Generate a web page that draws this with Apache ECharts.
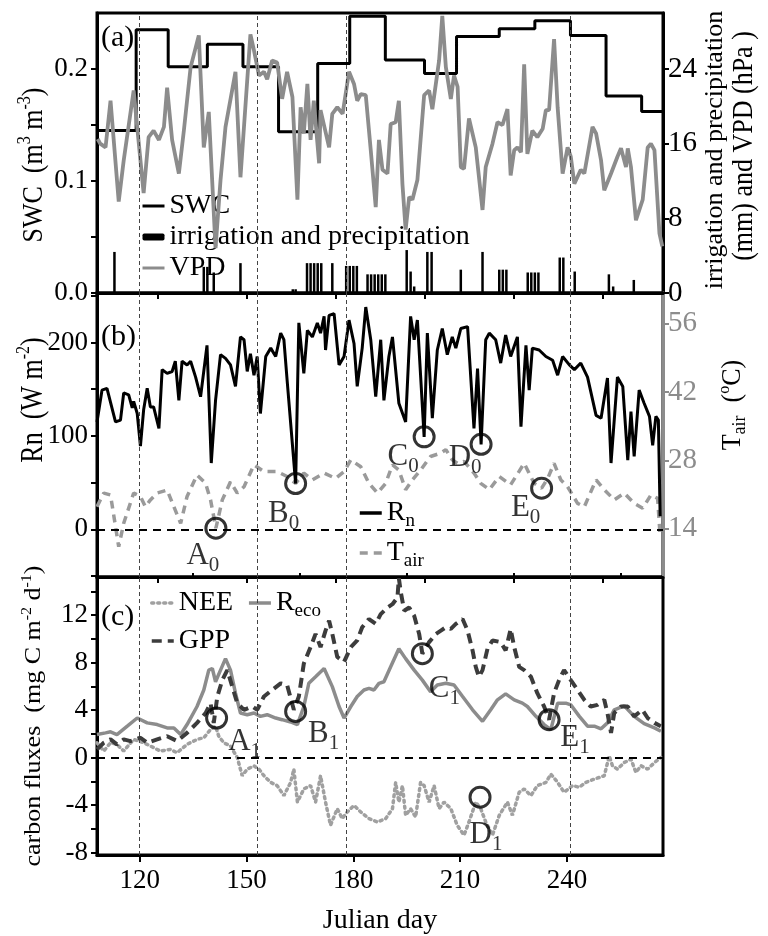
<!DOCTYPE html>
<html><head><meta charset="utf-8">
<script src="https://cdn.jsdelivr.net/npm/echarts@6/dist/echarts.min.js"></script>
<style>html,body{margin:0;padding:0;background:#fff}#c{width:768px;height:936px}</style>
</head><body><div id="c"></div>
<script>
// ---------------- DATA ----------------
const stageDays = [120, 153, 178, 241];
const xTicksUpper = [125, 150, 175, 200, 225, 250];
const xTicksMajor = [120, 150, 180, 210, 240];
const xTicksMinor = [135, 165, 195, 225, 255];
const swcTicks = [0, 0.05, 0.1, 0.15, 0.2];
const swcLabels = [0, 0.1, 0.2];
const rightATicks = [0, 8, 16, 24];
const rnTicks = [-50, 0, 50, 100, 150, 200, 250];
const rnLabels = [0, 100, 200];
const tairTicks = [14, 28, 42, 56];
const fluxTicks = [-8, -6, -4, -2, 0, 2, 4, 6, 8, 10, 12, 14];
const fluxLabels = [-8, -4, 0, 4, 8, 12];

// SWC plateaus [day, m3/m3]
const swc = [[108,0.145],[119,0.235],[128,0.202],[139,0.222],[149,0.202],[159,0.144],[170,0.205],[179,0.247],[189,0.208],[200,0.196],[209,0.229],[221,0.236],[231,0.243],[241,0.230],[251,0.176],[261,0.162],[267,0.162]];
// irrigation and precipitation [day, mm]
const precip = [[112.9,4.4],[138.0,2.8],[139.0,2.8],[140.8,2.2],[148.3,3.2],[163.0,0.4],[163.8,0.4],[167,3.2],[168,3.2],[169,3.2],[170,3.2],[171,3.2],[174.1,3.2],[178,2.9],[179,2.9],[180,2.9],[181,2.9],[184,2.0],[185,2.0],[186,2.0],[187,2.0],[188,2.0],[189,2.0],[195.0,4.6],[196.1,2.3],[197.1,0.7],[200.8,4.4],[202.0,4.4],[210.2,2.5],[216.3,4.4],[221,2.5],[222,2.5],[223,2.5],[229,2.2],[230,2.2],[231,2.2],[232,2.2],[238,3.8],[239,3.8],[242.2,2.3],[251.8,2.0],[253.0,0.7],[258.8,1.4]];
// VPD [day, hPa]
const vpd = [[108.2,16.5],[108.9,16.0],[110.4,15.6],[111.8,20.6],[114.1,9.8],[115.5,14.2],[118.3,21.7],[121.1,10.7],[122.5,16.7],[123.9,17.4],[125.4,16.4],[126.8,17.8],[127.7,22.0],[129.1,16.4],[131.0,12.8],[132.4,17.4],[134.3,24.2],[136.6,27.6],[138.0,15.6],[139.4,19.4],[141.3,4.8],[142.7,12.1],[144.1,17.8],[146.9,23.7],[148.3,12.4],[151.1,27.7],[152.1,26.0],[153.5,23.3],[154.9,23.7],[155.8,22.9],[157.2,24.9],[158.6,24.7],[160.0,20.8],[161.4,23.7],[162.9,21.0],[164.3,10.0],[165.2,19.9],[166.1,17.1],[167.1,22.4],[168.0,16.4],[168.9,20.6],[170.4,13.9],[170.8,19.6],[173.2,15.6],[174.1,19.2],[175.5,19.9],[177.0,19.2],[178.8,23.7],[180.2,22.4],[181.1,20.6],[182.1,21.3],[183.5,21.2],[184.9,15.3],[186.3,9.2],[187.2,16.4],[188.2,13.2],[189.6,12.8],[190.5,18.1],[191.9,18.3],[192.8,20.6],[193.8,11.7],[194.7,6.8],[195.7,10.3],[196.6,10.0],[198.0,12.1],[199.9,21.2],[201.3,21.7],[202.2,19.7],[204.1,24.9],[205.0,29.7],[206.0,24.2],[207.4,20.8],[208.3,23.3],[209.3,22.1],[210.2,13.5],[211.1,13.3],[212.5,18.7],[214.4,15.6],[216.3,8.9],[217.2,13.5],[219.1,16.0],[220.5,18.3],[221.9,18.0],[223.3,19.7],[224.2,12.6],[225.2,15.3],[226.1,15.6],[227.1,15.1],[228.0,24.5],[228.9,14.9],[230.3,17.4],[231.7,16.7],[233.2,17.6],[234.1,19.6],[235.0,19.6],[236.4,27.2],[237.4,19.9],[238.8,12.8],[240.2,15.6],[241.1,14.6],[242.1,11.7],[243.9,13.2],[244.9,12.8],[247.2,17.8],[248.2,17.1],[249.6,14.2],[250.5,11.0],[252.4,12.8],[254.2,14.6],[255.2,15.5],[256.6,13.5],[257.1,15.5],[258.0,13.5],[259.4,7.8],[261.3,10.0],[262.7,15.6],[263.6,16.0],[264.6,15.3],[266.0,6.4],[266.8,5.0]];
// Rn [day, W m-2]
const rn = [[108.0,115],[109.4,149],[110.8,151],[113.2,115],[114.6,117],[115.5,146],[116.9,144],[117.9,130],[118.3,137],[119.3,124],[120.2,89],[121.1,128],[122.1,151],[123.0,131],[123.9,131],[125.4,108],[126.3,171],[127.7,167],[129.1,169],[130.0,180],[131.0,138],[131.9,180],[133.3,176],[134.3,180],[135.7,163],[137.1,142],[138.9,197],[140.1,71],[141.3,138],[142.7,187],[144.1,183],[145.5,176],[146.9,153],[148.3,206],[149.3,203],[150.2,169],[151.1,188],[152.1,165],[153.0,185],[153.9,124],[155.4,185],[156.8,194],[158.2,185],[159.6,210],[160.5,203],[161.4,160],[163.8,49],[164.7,221],[166.1,167],[167.1,213],[168.5,206],[169.9,221],[170.8,210],[171.8,228],[172.2,192],[173.2,229],[174.6,231],[176.0,176],[177.4,185],[178.8,224],[180.2,199],[181.1,153],[182.5,194],[183.5,238],[184.9,203],[186.3,142],[187.7,203],[188.6,138],[190.0,185],[191.0,206],[192.8,135],[194.7,115],[196.1,228],[197.1,203],[198.0,224],[199.9,99],[200.8,210],[202.2,119],[203.6,192],[205.0,215],[206.4,187],[207.8,206],[208.8,194],[210.2,215],[212.1,217],[213.9,108],[214.9,172],[215.9,91],[217.2,203],[218.2,210],[220.0,203],[221.4,178],[222.8,208],[224.2,185],[226.1,206],[227.1,110],[228.5,197],[229.4,149],[230.3,194],[232.2,192],[234.1,185],[236.0,181],[237.4,165],[238.8,185],[240.7,176],[242.1,171],[243.9,178],[245.8,163],[248.2,122],[249.6,119],[251.4,162],[252.4,71],[254.2,163],[255.7,153],[257.1,74],[258.0,126],[258.9,78],[260.3,149],[261.7,135],[263.2,121],[264.1,90],[265.0,121],[265.7,117],[266.2,14]];
// Tair [day, degC]
const tair = [[108.0,18.5],[109.9,21.3],[111.8,20.9],[114.1,10.3],[115.5,15.1],[118.3,21.3],[120.2,20.6],[121.6,18.5],[123.0,19.9],[124.9,21.3],[127.7,21.9],[129.6,18.5],[131.5,15.1],[133.3,20.6],[136.1,25.0],[138.5,23.3],[139.9,19.9],[141.4,14.1],[143.2,19.9],[145.5,23.6],[147.4,21.3],[149.3,22.6],[152.1,27.1],[154.9,25.7],[158.6,25.7],[161.4,24.7],[163.8,23.3],[166.1,25.4],[168.5,24.0],[171.8,25.4],[175.0,24.3],[177.4,25.7],[179.3,28.1],[182.1,26.7],[184.4,23.3],[186.8,21.3],[189.1,23.3],[191.0,27.1],[192.8,26.0],[194.7,22.0],[196.6,24.0],[198.9,26.0],[201.7,28.8],[204.6,29.5],[206.0,30.2],[207.8,28.1],[209.3,27.4],[211.1,27.8],[213.9,25.4],[215.8,23.3],[218.2,22.0],[221.0,24.7],[224.2,23.0],[228.0,27.4],[230.8,23.3],[232.9,22.3],[234.6,24.3],[236.4,27.4],[238.3,24.0],[240.2,22.6],[243.0,19.2],[244.9,18.5],[248.2,24.0],[250.5,22.0],[253.3,19.9],[256.1,21.3],[258.9,19.2],[261.3,18.2],[263.6,20.9],[265.5,20.2],[266.2,12.4]];
// carbon fluxes [day, mg C m-2 d-1]
const reco = [[108.0,1.94],[110.4,2.08],[111.8,2.17],[113.6,1.94],[116.5,2.64],[119.3,3.33],[122.1,2.92],[124.9,2.78],[127.7,2.5],[129.6,2.5],[131.5,1.94],[133.3,2.78],[136.1,4.3],[138.0,5.69],[139.4,7.36],[140.4,7.5],[141.3,6.38],[142.7,7.36],[144.1,8.33],[145.5,7.36],[146.9,5.42],[148.3,3.75],[150.2,3.61],[152.1,3.75],[153.9,3.47],[155.8,3.61],[158.2,3.33],[160.0,3.19],[162.4,3.0],[164.3,2.78],[166.1,4.3],[167.5,6.25],[169.4,6.8],[171.8,7.5],[174.1,5.97],[176.0,4.3],[177.4,3.33],[179.3,4.3],[181.1,5.14],[183.0,5.69],[184.4,5.83],[185.8,5.69],[187.2,6.25],[188.6,6.38],[190.5,7.64],[192.8,9.16],[194.7,8.33],[197.1,7.36],[199.4,6.52],[201.7,5.55],[203.6,6.11],[206.0,6.25],[208.3,6.11],[210.7,5.14],[213.5,4.02],[216.3,3.05],[218.6,4.02],[220.5,4.86],[222.8,5.36],[225.2,4.86],[227.5,4.58],[228.9,4.3],[231.3,3.47],[233.6,2.78],[235.5,2.36],[237.4,4.58],[239.7,4.58],[241.1,4.44],[243.5,3.47],[245.8,2.64],[247.7,2.64],[249.6,2.42],[251.4,2.92],[253.3,4.02],[256.1,4.36],[258.9,3.47],[261.7,2.86],[264.6,2.5],[266.4,2.22]];
const gpp = [[108.0,0.69],[109.9,1.25],[111.8,1.53],[113.6,1.11],[115.5,1.53],[117.4,1.39],[120.2,1.67],[122.1,1.25],[124.9,1.53],[127.7,1.8],[130.5,1.39],[133.3,2.08],[136.1,2.92],[138.5,3.75],[139.9,4.58],[140.8,2.92],[141.8,5.14],[143.2,6.52],[144.6,7.36],[146.0,5.97],[147.4,4.58],[149.3,4.02],[151.6,4.3],[153.0,4.02],[154.9,5.14],[157.2,5.69],[159.6,6.25],[161.4,6.11],[163.3,4.02],[164.7,5.14],[166.1,7.91],[168.0,9.3],[169.4,10.41],[170.8,9.3],[172.2,10.69],[173.2,11.52],[174.1,10.41],[175.5,8.47],[177.4,8.05],[179.3,9.3],[181.1,9.86],[182.5,10.97],[184.4,11.66],[186.3,11.25],[187.7,12.08],[189.6,12.63],[191.0,12.91],[192.4,13.47],[192.8,15.1],[193.3,14.0],[194.3,12.36],[195.7,12.63],[197.1,11.94],[198.5,10.41],[199.4,8.75],[201.3,9.72],[203.2,10.41],[204.6,10.69],[206.0,10.97],[207.4,10.83],[208.8,11.25],[210.7,11.66],[212.1,10.69],[213.5,9.02],[214.4,7.63],[215.3,6.8],[216.3,7.36],[217.7,9.16],[219.1,9.86],[221.4,9.72],[222.8,9.02],[224.2,10.83],[225.2,9.3],[226.6,7.63],[228.0,7.36],[229.9,6.8],[231.7,5.42],[233.6,4.3],[235.0,3.19],[236.4,5.42],[237.8,6.52],[239.2,7.36],[241.1,6.52],[243.0,5.69],[244.9,4.86],[246.7,4.3],[248.6,4.44],[250.5,4.86],[251.4,3.75],[252.4,2.08],[253.3,3.75],[255.2,4.3],[257.1,4.3],[258.9,3.47],[261.2,4.02],[262.7,3.33],[264.6,2.92],[266.4,2.64]];
const nee = [[108.0,1.25],[109.9,0.55],[111.8,1.25],[113.6,1.11],[115.5,0.55],[118.3,1.53],[121.1,1.25],[123.0,0.97],[125.8,0.55],[128.6,0.69],[130.5,0.41],[133.3,1.11],[136.1,1.53],[138.0,1.67],[139.9,2.36],[141.3,2.64],[142.2,1.8],[143.6,1.25],[145.5,0.97],[147.4,0.0],[148.8,-1.53],[150.2,-0.97],[152.1,-0.7],[153.5,-0.97],[154.9,-1.53],[156.8,-2.09],[158.6,-2.36],[160.5,-3.2],[162.4,-2.09],[163.3,-0.97],[164.3,-3.75],[166.1,-2.64],[168.0,-2.36],[169.4,-3.75],[170.8,-1.53],[172.2,-3.75],[173.6,-5.7],[175.5,-4.3],[176.9,-5.14],[178.3,-4.58],[180.2,-4.03],[182.1,-4.58],[184.4,-5.14],[186.8,-5.42],[189.1,-5.14],[191.0,-4.3],[191.9,-2.09],[192.8,-3.75],[193.8,-2.36],[194.7,-4.86],[196.1,-4.3],[197.5,-5.0],[198.9,-2.09],[199.9,-2.36],[201.3,-3.75],[202.7,-2.36],[204.1,-4.3],[205.5,-3.75],[207.4,-4.3],[209.2,-5.7],[211.1,-6.53],[212.5,-5.42],[214.4,-3.75],[215.8,-4.3],[217.2,-5.42],[219.1,-6.53],[221.0,-4.86],[223.3,-3.75],[224.7,-4.86],[226.6,-2.92],[228.0,-2.64],[229.9,-3.2],[231.7,-2.36],[234.1,-2.09],[235.5,-1.39],[237.4,-2.09],[239.2,-2.92],[241.6,-2.36],[243.5,-2.5],[245.3,-2.09],[247.7,-1.81],[250.5,-1.53],[251.9,0.14],[252.8,-0.69],[254.2,-0.97],[256.1,-0.42],[258.0,-0.14],[259.4,-1.25],[260.8,-0.69],[262.7,-0.97],[264.6,-0.42],[266.4,0.0]];

// marked points: label, subscript, day, value
const marksRn = [['B','0',163.8,49],['C','0',199.9,99],['D','0',215.9,91]];
const marksTair = [['A','0',141.4,14.1],['E','0',232.9,22.3]];
const marksFlux = [['A','1',141.6,3.33],['B','1',163.8,3.88],['C','1',199.4,8.75],['D','1',215.6,-3.33],['E','1',235.0,3.19]];

// ---------------- STYLE ----------------
const FONT = 'Liberation Serif';
const labelOffsets = {A0:[-13,28],B0:[-12,30],C0:[-21,20],D0:[-16,14],E0:[-16,20],
                      A1:[28,24],B1:[28,22],C1:[22,35],D1:[6,38],E1:[26,18]};
const xMin = 108, xMax = 267;

const chart = echarts.init(document.getElementById('c'), null, {renderer:'canvas'});

const tickLabel = {fontFamily: FONT, fontSize: 27, color: '#000'};
function xAxisUpper(gi){
  return {gridIndex: gi, type:'value', min:xMin, max:xMax,
    axisLine:{show:true, onZero:false, lineStyle:{color:'#000', width:3}},
    axisTick:{show:true, customValues:xTicksUpper, length:6, lineStyle:{color:'#000', width:2}},
    axisLabel:{show:false}, splitLine:{show:false}};
}
function yAx(gi, pos, min, max, ticks, labels, color, fmt, margin, fs){
  return {gridIndex: gi, type:'value', position: pos, min, max,
    axisLine:{show:true, onZero:false, lineStyle:{color: color, width:3}},
    axisTick:{show:true, customValues:ticks, length:6, lineStyle:{color: color, width:2}},
    axisLabel:{show:true, customValues:labels, margin: margin, fontFamily:FONT, fontSize:fs || 27, color: color, formatter: fmt},
    splitLine:{show:false}};
}
const vLines = stageDays.map(d => ({xAxis: d}));
const vLineStyle = {color:'#444', type:[4,3], width:1};
const zeroLine = {yAxis: 0, lineStyle:{color:'#000', type:[8,6], width:2}};

const circleStyle = {color:'rgba(0,0,0,0)', borderColor:'#000', borderWidth:3};
const markRich = {
  m:{fontFamily:FONT, fontSize:31, lineHeight:40, color:'#000'},
  s:{fontFamily:FONT, fontSize:21, lineHeight:20, verticalAlign:'bottom', color:'#000'}
};
function markData(arr){
  return arr.map(m => ({value:[m[2], m[3]], lab:m[0], sub:m[1],
    label:{offset: labelOffsets[m[0]+m[1]]}}));
}
function markSeries(arr, xi, yi){
  return {type:'scatter', xAxisIndex:xi, yAxisIndex:yi, data: markData(arr), symbol:'circle', symbolSize:20,
    itemStyle: circleStyle, z: 10, silent:true,
    label:{show:true, position:'inside', formatter: p => `{m|${p.data.lab}}{s|${p.data.sub}}`, rich: markRich}};
}

const legendText = {fontFamily:FONT, fontSize:28, color:'#000', lineHeight:30,
  rich:{m:{fontFamily:FONT, fontSize:28, lineHeight:36, color:'#000'},
        s:{fontFamily:FONT, fontSize:19, lineHeight:19, verticalAlign:'bottom', color:'#000'}}};
const subName = {Rn:'{m|R}{s|n}', Tair:'{m|T}{s|air}', Reco:'{m|R}{s|eco}'};
const legendFmt = n => subName[n] || n;
const lineItem = n => ({name:n, itemStyle:{opacity:0}});

const T = {fontFamily:FONT, fontSize:26, lineHeight:32, fill:'#000', color:'#000'};
const P = {fontFamily:FONT, fontSize:16, lineHeight:16, verticalAlign:'top', fill:'#000', color:'#000'};
const S = {fontFamily:FONT, fontSize:18, lineHeight:18, verticalAlign:'bottom', fill:'#000', color:'#000'};
function vtitle(x, y, text, sc){
  return {type:'text', x, y, rotation: Math.PI/2, scaleX: 1, scaleY: sc, silent:true,
    style:{text, rich:{t:T, p:P, s:S}, align:'center', verticalAlign:'middle', fill:'#000',
      fontFamily:FONT, fontSize:26}};
}
function panelLabel(x, y, text){
  return {type:'text', x, y, silent:true, style:{text, fontFamily:FONT, fontSize:30, fill:'#000', align:'left', verticalAlign:'middle'}};
}

const option = {
  animation:false,
  backgroundColor:'#fff',
  grid:[
    {left:97, width:566, top:13, height:280, show:true, borderColor:'#000', borderWidth:3, backgroundColor:'transparent'},
    {left:97, width:566, top:293, height:284, show:true, borderColor:'#000', borderWidth:3, backgroundColor:'transparent'},
    {left:97, width:566, top:577, height:280, show:true, borderColor:'#000', borderWidth:3, backgroundColor:'transparent'}
  ],
  xAxis:[
    xAxisUpper(0), xAxisUpper(1),
    {gridIndex:2, type:'value', min:xMin, max:xMax,
      axisLine:{show:true, onZero:false, lineStyle:{color:'#000', width:3}},
      axisTick:{show:true, customValues:xTicksMajor, length:7, lineStyle:{color:'#000', width:2}},
      axisLabel:{show:true, customValues:xTicksMajor, margin:12, ...tickLabel},
      splitLine:{show:false},
      name:'Julian day', nameLocation:'middle', nameGap:52,
      nameTextStyle:{fontFamily:FONT, fontSize:28, color:'#000'}},
    {gridIndex:2, type:'value', min:xMin, max:xMax,
      axisLine:{show:false, onZero:false},
      axisTick:{show:true, customValues:xTicksMinor, length:4, lineStyle:{color:'#000', width:2}},
      axisLabel:{show:false}, splitLine:{show:false}}
  ],
  yAxis:[
    yAx(0,'left',0,0.25,swcTicks,swcLabels,'#000', v => v.toFixed(1), 9),
    yAx(0,'right',0,30,rightATicks,rightATicks,'#000', v => String(v), 5, 29),
    yAx(1,'left',-51,253,rnTicks,rnLabels,'#000', v => String(v), 9),
    yAx(1,'right',4.1,62.3,tairTicks,tairTicks,'#8c8c8c', v => String(v), 5, 29),
    yAx(2,'left',-8.2,15.2,fluxTicks,fluxLabels,'#000', v => String(v), 9)
  ],
  legend:[
    {data:[lineItem('SWC'),'irrigation and precipitation',lineItem('VPD')], orient:'vertical', left:136, top:186,
      itemWidth:22, itemHeight:7, itemGap:1, selectedMode:false, textStyle:legendText,
      lineStyle:{width:3}},
    {data:[lineItem('Rn'),lineItem('Tair')], orient:'vertical', left:353, top:490, itemWidth:22, itemHeight:7, itemGap:4,
      selectedMode:false, textStyle:legendText, formatter:legendFmt, lineStyle:{width:3.5}},
    {data:[lineItem('NEE'),lineItem('Reco')], orient:'horizontal', left:145, top:580, itemWidth:22, itemHeight:7, itemGap:14,
      selectedMode:false, textStyle:legendText, formatter:legendFmt, lineStyle:{width:3.5}},
    {data:[lineItem('GPP')], orient:'horizontal', left:145, top:621, itemWidth:22, itemHeight:7, itemGap:14,
      selectedMode:false, textStyle:legendText, formatter:legendFmt, lineStyle:{width:3.5}}
  ],
  series:[
    {name:'SWC', type:'line', xAxisIndex:0, yAxisIndex:0, data:swc, step:'end', symbol:'none',
      lineStyle:{color:'#000', width:3}, itemStyle:{color:'#000'}, z:3,
      markLine:{silent:true, symbol:'none', label:{show:false}, lineStyle:vLineStyle, data:vLines}},
    {name:'irrigation and precipitation', type:'bar', xAxisIndex:0, yAxisIndex:1, data:precip,
      barWidth:2.5, itemStyle:{color:'#000'}, z:2},
    {name:'VPD', type:'line', xAxisIndex:0, yAxisIndex:1, data:vpd, symbol:'none',
      lineStyle:{color:'#8c8c8c', width:3.8}, itemStyle:{color:'#8c8c8c'}, z:4},

    {name:'Tair', type:'line', xAxisIndex:1, yAxisIndex:3, data:tair, symbol:'none',
      lineStyle:{color:'#9a9a9a', width:3.5, type:[8,6]}, itemStyle:{color:'#9a9a9a'}, z:3},
    {name:'Rn', type:'line', xAxisIndex:1, yAxisIndex:2, data:rn, symbol:'none',
      lineStyle:{color:'#000', width:3}, itemStyle:{color:'#000'}, z:4,
      markLine:{silent:true, symbol:'none', label:{show:false}, lineStyle:vLineStyle, data:[...vLines, zeroLine]}},
    markSeries(marksRn, 1, 2),
    markSeries(marksTair, 1, 3),

    {name:'NEE', type:'line', xAxisIndex:2, yAxisIndex:4, data:nee, symbol:'none',
      lineStyle:{color:'#a0a0a0', width:3.5, type:[2,4], cap:'round'}, itemStyle:{color:'#a0a0a0'}, z:3,
      markLine:{silent:true, symbol:'none', label:{show:false}, lineStyle:vLineStyle, data:[...vLines, zeroLine]}},
    {name:'Reco', type:'line', xAxisIndex:2, yAxisIndex:4, data:reco, symbol:'none',
      lineStyle:{color:'#8c8c8c', width:3.5}, itemStyle:{color:'#8c8c8c'}, z:3},
    {name:'GPP', type:'line', xAxisIndex:2, yAxisIndex:4, data:gpp, symbol:'none',
      lineStyle:{color:'#3c3c3c', width:4, type:[10,6]}, itemStyle:{color:'#3c3c3c'}, z:4},
    markSeries(marksFlux, 2, 4)
  ],
  graphic:[
    panelLabel(101, 38, '(a)'),
    panelLabel(101, 337, '(b)'),
    panelLabel(101, 617, '(c)'),
    vtitle(34, 165, '{t|SWC  (m}{p|3}{t| m}{p|-3}{t|)}', 1.12),
    vtitle(34, 400, '{t|Rn  (W m}{p|-2}{t|)}', 1.2),
    vtitle(34, 716, '{t|carbon fluxes  (mg C m}{p|-2}{t| d}{p|-1}{t|)}', 0.9),
    vtitle(715, 150, '{t|irrigation and precipitation}', 1.0),
    vtitle(744, 146, '{t|(mm) and VPD (hPa )}', 1.1),
    vtitle(733, 405, '{t|T}{s|air}{t|  (}{p|o}{t|C)}', 1.05)
  ]
};
chart.setOption(option);
</script>
</body></html>
